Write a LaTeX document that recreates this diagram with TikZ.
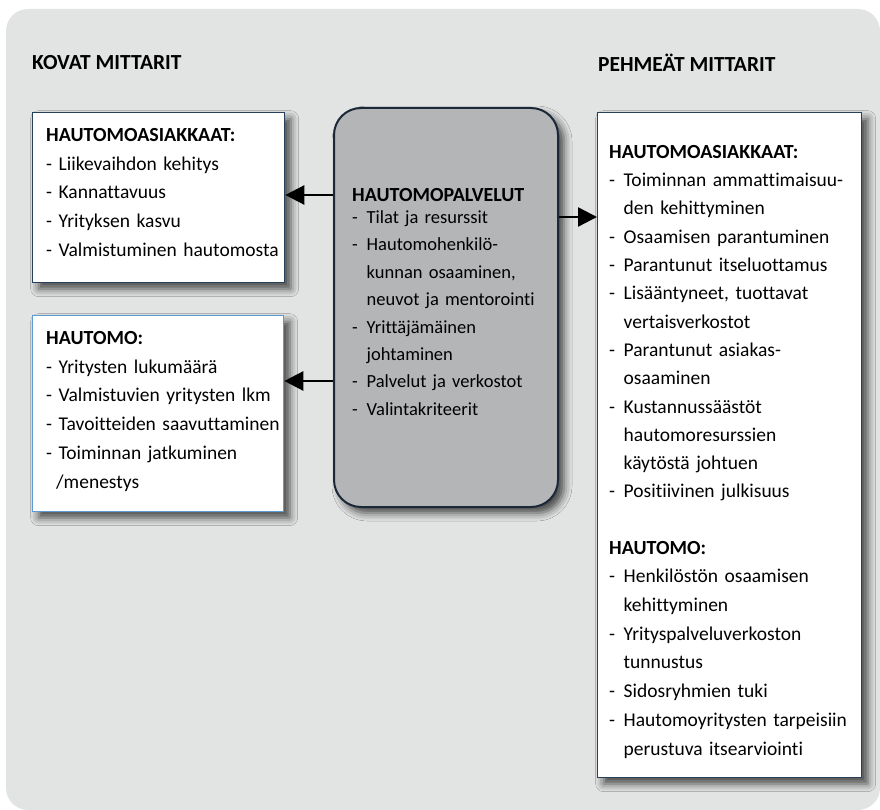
\documentclass[tikz,border=0pt]{standalone}
\usepackage{fontspec}
\setmainfont{Carlito}[Ligatures={NoCommon,NoContextual}]
\usetikzlibrary{arrows.meta,shadows.blur}
\definecolor{bgc}{HTML}{E2E3E3}
\definecolor{cfill}{HTML}{B4B5B7}
\definecolor{cline}{HTML}{1B2838}
\definecolor{darkb}{HTML}{27405A}
\definecolor{lightb}{HTML}{5B9BD5}
\newcommand\hi[1]{\par\hangindent=14.5pt\hangafter=1\noindent\makebox[14.5pt][l]{-}#1}
\newcommand\hd[1]{{\fontsize{20}{28.6}\selectfont\bfseries #1}}
\begin{document}
\begin{tikzpicture}[x=1pt,y=-1pt,
  arr/.style={line width=2.4pt,-{Triangle[length=19pt,width=19pt]}},
  shad/.style={blur shadow={shadow xshift=6pt,shadow yshift=-6pt,shadow blur radius=8pt,shadow opacity=70}},
  wbox/.style={draw,fill=white,line width=1.3pt,shad,inner sep=0pt,anchor=north west},
  cbox/.style={draw=cline,fill=cfill,line width=2pt,rounded corners=27pt,shad,inner sep=0pt,anchor=north west},
  txt/.style={inner sep=0pt,anchor=north west,align=left,text width=300pt,font=\fontsize{19.5}{28.7}\selectfont},
  ctxt/.style={inner sep=0pt,anchor=north west,align=left,text width=300pt,font=\fontsize{18.5}{27.4}\selectfont},
  rtxt/.style={inner sep=0pt,anchor=north west,align=left,text width=300pt,font=\fontsize{19.5}{28.3}\selectfont},
  head/.style={inner sep=0pt,anchor=west,font=\fontsize{21.5}{24}\selectfont\bfseries}
]
\useasboundingbox (0,0) rectangle (880,810);
\fill[bgc,rounded corners=22pt] (6,9) rectangle (880,810);

\node[head] (kovat) at (32,63) {KOVAT MITTARIT};
\node[head] (pehmeat) at (598,63) {PEHMEÄT MITTARIT};

\node[wbox,draw=darkb,minimum width=252pt,minimum height=170pt] (b1) at (32,112) {};
\node[wbox,draw=lightb,minimum width=251pt,minimum height=196pt] (b2) at (32,315) {};
\node[cbox,minimum width=224pt,minimum height=399pt] (c) at (333,107) {};
\node[wbox,draw=darkb,minimum width=264pt,minimum height=665pt] (r) at (597,112) {};

\node[txt] (t1) at (46,121.3) {\strut\hd{HAUTOMOASIAKKAAT:}\\
- Liikevaihdon kehitys\\
- Kannattavuus\\
- Yrityksen kasvu\\
- Valmistuminen hautomosta};

\node[txt] (t2) at (46,324.3) {\strut\hd{HAUTOMO:}\\
- Yritysten lukumäärä\\
- Valmistuvien yritysten lkm\\
- Tavoitteiden saavuttaminen\\
- Toiminnan jatkuminen\\
\hspace*{10pt}/menestys};

\node[ctxt] (tc) at (352,181.8) {\strut\hd{HAUTOMOPALVELUT}\par\vskip-5pt
\hi{Tilat ja resurssit}
\hi{Hautomohenkilö-\newline kunnan osaaminen,\newline neuvot ja mentorointi}
\hi{Yrittäjämäinen\newline johtaminen}
\hi{Palvelut ja verkostot}
\hi{Valintakriteerit}\par};

\node[rtxt] (tr) at (609,138.3) {\strut\hd{HAUTOMOASIAKKAAT:}
\hi{Toiminnan ammattimaisuu-\newline den kehittyminen}
\hi{Osaamisen parantuminen}
\hi{Parantunut itseluottamus}
\hi{Lisääntyneet, tuottavat\newline vertaisverkostot}
\hi{Parantunut asiakas-\newline osaaminen}
\hi{Kustannussäästöt\newline hautomoresurssien\newline käytöstä johtuen}
\hi{Positiivinen julkisuus}
\par\vskip 27.5pt\noindent\hd{HAUTOMO:}\baselineskip=28.7pt
\hi{Henkilöstön osaamisen\newline kehittyminen}
\hi{Yrityspalveluverkoston\newline tunnustus}
\hi{Sidosryhmien tuki}
\hi{Hautomoyritysten tarpeisiin\newline perustuva itsearviointi}\par};

\coordinate (y1) at (0,195);
\coordinate (y2) at (0,381);
\coordinate (y3) at (0,217);
\draw[arr] (c.west |- y1) -- (b1.east |- y1);
\draw[arr] (c.west |- y2) -- (b2.east |- y2);
\draw[arr] (c.east |- y3) -- (r.west |- y3);
\end{tikzpicture}
\end{document}
